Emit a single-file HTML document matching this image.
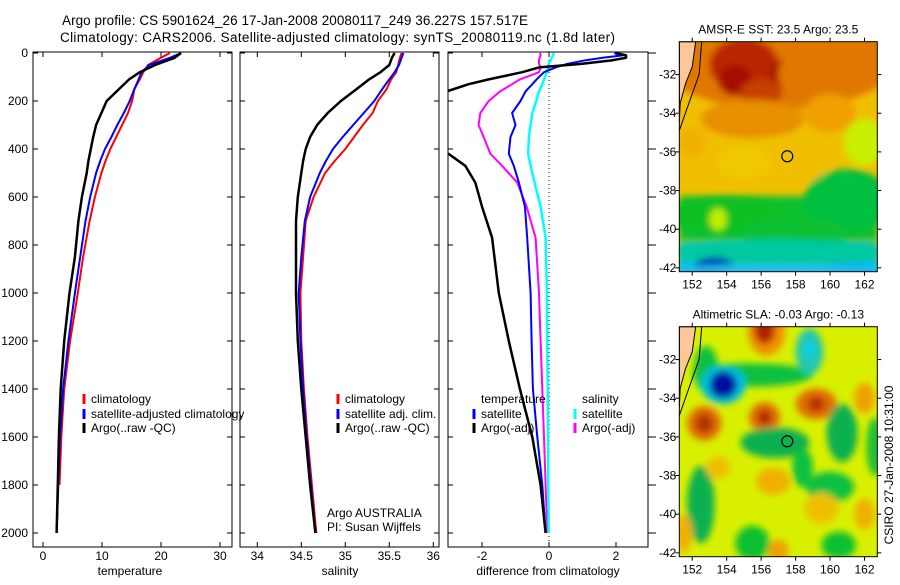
<!DOCTYPE html>
<html><head><meta charset="utf-8"><style>
html,body{margin:0;padding:0;background:#fff;}
svg text{font-family:"Liberation Sans",sans-serif;fill:#000;}
</style></head><body>
<svg id="fig" width="900" height="580" viewBox="0 0 900 580" xmlns="http://www.w3.org/2000/svg">
<defs>
<filter id="blur1" x="-20%" y="-20%" width="140%" height="140%"><feGaussianBlur stdDeviation="3.5"/></filter>
<clipPath id="cT"><rect x="33" y="52" width="199" height="495"/></clipPath>
<clipPath id="cS"><rect x="240" y="52" width="199" height="495"/></clipPath>
<clipPath id="cD"><rect x="448" y="52" width="200" height="495"/></clipPath>
<clipPath id="cM1"><rect x="679" y="42" width="198" height="230"/></clipPath>
<clipPath id="cM2"><rect x="679" y="327" width="198" height="230"/></clipPath>
</defs>
<text x="62" y="25" font-size="13.5" textLength="466">Argo profile: CS 5901624_26 17-Jan-2008 20080117_249 36.227S 157.517E</text>
<text x="60" y="42" font-size="13.5" textLength="555">Climatology: CARS2006. Satellite-adjusted climatology: synTS_20080119.nc (1.8d later)</text>
<g id="panels"></g>
<g id="maps"></g>
</svg>
<script>
// ---- profile data ----
const depthProf = [0,20,50,80,110,150,200,250,300,350,400,450,500,600,700,850,1000,1200,1400,1600,1800,2000];
const tempClim = [21.5,20,17.8,17.0,16.4,15.5,15.1,14.4,13.4,12.4,11.4,10.6,9.9,8.8,7.9,6.8,5.9,4.6,3.6,3.1,2.8];
const tempSat  = [23.4,21.5,18.0,16.7,16.2,15.5,14.7,13.7,12.6,11.6,10.5,9.7,9.0,8.0,7.2,6.3,5.4,4.3,3.4,2.9,2.6,2.3];
const tempArgo = [23.4,22.3,19.0,16.4,14.6,12.9,10.8,9.9,9.0,8.5,8.1,7.7,7.4,6.6,6.0,5.4,4.5,3.6,3.0,2.7,2.5,2.3];
const salClim = [35.64,35.62,35.6,35.58,35.52,35.47,35.37,35.31,35.2,35.1,35.0,34.88,34.77,34.64,34.55,34.52,34.49,34.5,34.53,34.57,34.62,34.67];
const salSat  = [35.66,35.64,35.61,35.56,35.5,35.42,35.33,35.21,35.09,34.97,34.86,34.78,34.71,34.6,34.54,34.5,34.47,34.49,34.52,34.56,34.61,34.66];
const salArgo = [35.56,35.53,35.5,35.4,35.27,35.13,34.95,34.8,34.68,34.6,34.55,34.52,34.5,34.46,34.44,34.44,34.44,34.46,34.5,34.55,34.6,34.66];
const depthDiff = [0,10,20,30,45,60,80,110,130,160,200,250,300,350,420,470,540,640,770,1000,1200,1400,1600,1800,2000];
const diffTempSat  = [1.95,2.2,1.6,1.1,0.55,0.2,-0.15,-0.37,-0.5,-0.7,-0.85,-1.1,-1.0,-1.15,-1.2,-1.05,-0.9,-0.72,-0.65,-0.55,-0.52,-0.48,-0.35,-0.2,-0.1];
const diffTempArgo = [2.0,2.3,2.3,1.9,1.0,-0.3,-0.8,-1.8,-2.4,-3.05,-4,-4.5,-4.5,-4.5,-3.0,-2.5,-2.2,-2.0,-1.7,-1.5,-1.2,-0.87,-0.5,-0.25,-0.1];
const diffSalSat   = [0.15,0.12,0.08,0.05,0.0,-0.05,-0.07,-0.15,-0.2,-0.3,-0.38,-0.5,-0.55,-0.6,-0.62,-0.55,-0.43,-0.25,-0.1,-0.06,-0.05,-0.04,-0.03,-0.02,-0.01];
const diffSalArgo  = [-0.27,-0.25,-0.28,-0.3,-0.3,-0.25,-0.3,-0.87,-1.1,-1.46,-1.8,-2.05,-2.1,-1.95,-1.75,-1.4,-0.95,-0.67,-0.4,-0.3,-0.25,-0.2,-0.15,-0.1,-0.05];
const depthTicks = [0,200,400,600,800,1000,1200,1400,1600,1800,2000];
const tempTicks = [0,10,20,30];
const salTicks = [34,34.5,35,35.5,36];
const salTickLabels = ["34","34.5","35","35.5","36"];
const diffTicks = [-2,0,2];
const lonTicks = [152,154,156,158,160,162];
const latTicks = [-32,-34,-36,-38,-40,-42];

const NS="http://www.w3.org/2000/svg";
function mk(tag,attrs,parent){const e=document.createElementNS(NS,tag);for(const k in attrs)e.setAttribute(k,attrs[k]);parent.appendChild(e);return e;}
const yD = d => 53 + d*0.24;
const xT = v => 43 + v*5.9;
const xS = v => 257.3 + (v-34)*88;
const xDf = v => 549 + v*33.5;
const panels=document.getElementById('panels');

function line(parent,depths,vals,fx,color,w,name){
  let d="";
  for(let i=0;i<vals.length;i++){d+=(i?"L":"M")+fx(vals[i]).toFixed(1)+","+yD(depths[i]).toFixed(1);}
  const p=mk('path',{d:d,fill:"none",stroke:color,"stroke-width":w,"stroke-linejoin":"round"},parent);
  
  
}
function frame(x0,x1,name,clip,fx,ticks,labels,ylabels,rightOut){
  const g=mk('g',{},panels);
  
  
  mk('rect',{x:x0,y:52,width:x1-x0,height:495,fill:"#fff",stroke:"#000","stroke-width":1},g);
  depthTicks.forEach(d=>{
    const y=yD(d);
    mk('line',{x1:x0,x2:x0+5,y1:y,y2:y,stroke:"#000"},g);
    if(rightOut) mk('line',{x1:x1,x2:x1+8,y1:y,y2:y,stroke:"#000"},g);
    else mk('line',{x1:x1-5,x2:x1,y1:y,y2:y,stroke:"#000"},g);
    if(ylabels){const t=mk('text',{x:28,y:y+4,"font-size":12,"text-anchor":"end"},g);t.textContent=String(d);
      
      }
  });
  ticks.forEach((v,i)=>{
    const x=fx(v);
    mk('line',{x1:x,x2:x,y1:52,y2:57,stroke:"#000"},g);
    mk('line',{x1:x,x2:x,y1:542,y2:547,stroke:"#000"},g);
    const t=mk('text',{x:x,y:560,"font-size":12,"text-anchor":"middle"},g);t.textContent=labels[i];
    
    
  });
  return mk('g',{"clip-path":"url(#"+clip+")"},g);
}
let gT=frame(33,232,"temperature-panel","cT",xT,tempTicks,tempTicks.map(String),true,false);
line(gT,depthProf,tempClim,xT,"#ff0000",2,"temp-climatology-line");
line(gT,depthProf,tempSat,xT,"#0000ff",2,"temp-satellite-line");
line(gT,depthProf,tempArgo,xT,"#000",2.5,"temp-argo-line");
let gS=frame(240,439,"salinity-panel","cS",xS,salTicks,salTickLabels,false,false);
line(gS,depthProf,salClim,xS,"#ff0000",2,"sal-climatology-line");
line(gS,depthProf,salSat,xS,"#0000ff",2,"sal-satellite-line");
line(gS,depthProf,salArgo,xS,"#000",2.5,"sal-argo-line");
let gD=frame(448,648,"difference-panel","cD",xDf,diffTicks,diffTicks.map(String),false,true);
mk('line',{x1:xDf(0),x2:xDf(0),y1:52,y2:547,stroke:"#000","stroke-dasharray":"1,3"},gD);
line(gD,depthDiff,diffSalArgo,xDf,"#ff00ff",2,"diff-sal-argo-line");
line(gD,depthDiff,diffSalSat,xDf,"#00ffff",2.5,"diff-sal-satellite-line");
line(gD,depthDiff,diffTempSat,xDf,"#0000ff",2,"diff-temp-satellite-line");
line(gD,depthDiff,diffTempArgo,xDf,"#000",2.5,"diff-temp-argo-line");

function txt(x,y,s,name,size,anchor){const t=mk('text',{x:x,y:y,"font-size":size||12,"text-anchor":anchor||"start"},panels);t.textContent=s;
  
  return t;}
function mark(x,y,c){mk('rect',{x:x-1.5,y:y-9,width:3,height:10,fill:c},panels);}
txt(130,575,"temperature","x-axis-title-temperature",12,"middle");
txt(340,575,"salinity","x-axis-title-salinity",12,"middle");
txt(548,575,"difference from climatology","x-axis-title-difference",12,"middle");
mark(84,403,"#ff0000");txt(91,403,"climatology","legend-temp-climatology");
mark(84,418,"#0000ff");txt(91,418,"satellite-adjusted climatology","legend-temp-satellite");
mark(84,432,"#000");txt(91,432,"Argo(..raw -QC)","legend-temp-argo");
mark(338,403,"#ff0000");txt(345,403,"climatology","legend-sal-climatology");
mark(338,418,"#0000ff");txt(345,418,"satellite adj. clim.","legend-sal-satellite");
mark(338,432,"#000");txt(345,432,"Argo(..raw -QC)","legend-sal-argo");
txt(481,403,"temperature","legend-diff-temp-header");
mark(474,418,"#0000ff");txt(481,418,"satellite","legend-diff-temp-satellite");
mark(474,432,"#000");txt(481,432,"Argo(-adj)","legend-diff-temp-argo");
txt(582,403,"salinity","legend-diff-sal-header");
mark(575,418,"#00ffff");txt(582,418,"satellite","legend-diff-sal-satellite");
mark(575,432,"#ff00ff");txt(582,432,"Argo(-adj)","legend-diff-sal-argo");
txt(327,517,"Argo AUSTRALIA","credit-argo-australia");
txt(327,531,"PI: Susan Wijffels","credit-pi");

// ---- maps ----
const maps=document.getElementById('maps');
const sstBlobs=[
 [157,-31.2,7,2.6,"#e07800"],[155,-31.5,2.0,1.4,"#b82800"],[157.8,-32,1.3,0.9,"#a81400"],[154.5,-32.3,1,0.8,"#a81000"],
 [156,-33,1.2,0.8,"#c84000"],[159,-32,2,1.5,"#e07800"],[155.5,-34.3,3,1,"#e89000"],[160,-34,1.5,1,"#f0a000"],
 [157,-36.5,3,1.3,"#f0c000"],[162,-35.5,1.2,1.2,"#c8f000"],[161,-38.5,2.5,1.6,"#00c040"],[154,-39.3,3.5,0.9,"#10c020"],
 [153.5,-39.5,0.5,0.6,"#c0f000"],[158,-40.2,3,0.8,"#10c030"],[157,-41.2,6,0.7,"#00c8a0"],[153.3,-42,1.2,0.55,"#0020b0"],
 [160.5,-42.1,2,0.3,"#0080f0"],[157,-42.1,6,0.3,"#20c0f0"],[155,-36.5,1.5,0.8,"#f0c800"],[152,-35.5,0.8,0.8,"#f0b000"]];
const slaBlobs=[
 [155.5,-32.8,3.5,0.6,"#10c040"],[152.8,-32.5,0.7,1.2,"#10c040"],
 [156.3,-30.5,1.1,1.3,"#f09000"],[156.2,-30.4,0.6,0.8,"#b02000"],[153.8,-33.3,1.3,1.0,"#00c0e0"],[153.8,-33.3,0.8,0.7,"#0010a0"],
 [158.8,-31.6,0.8,1.2,"#20c8b0"],[158.8,-31.5,0.3,0.4,"#00d0f0"],
 [159.2,-34.3,1.2,0.8,"#e07000"],[159.2,-34.3,0.5,0.4,"#b83000"],[152.7,-35.3,1,0.9,"#e07000"],[152.7,-35.3,0.5,0.5,"#b03000"],
 [156.2,-35,0.9,0.8,"#e07000"],[156.2,-35,0.4,0.4,"#b02000"],[162,-34,0.6,0.8,"#f0a000"],
 [156.8,-36.3,2,0.8,"#10b050"],[160.7,-35.8,0.9,1.5,"#10b050"],[152.5,-39.5,0.8,2,"#10b050"],[160,-38.6,1.4,0.8,"#10c040"],
 [155.5,-41.5,1,0.9,"#10c030"],[160.5,-41.6,1,0.7,"#10c030"],[162.6,-36.5,0.5,1.5,"#20c030"],[158.4,-37.6,0.6,1,"#10c040"],
 [156.7,-38.3,1,0.7,"#f0b000"],[159.5,-39.7,1,0.8,"#f0c000"],[162,-40,0.6,0.8,"#f0b000"],[157,-41.9,0.6,0.6,"#f0a000"],[151.5,-41,0.5,1,"#f0b000"],[153.5,-37.6,0.7,0.6,"#f0c000"]];
function makeMap(top,clip,bg,blobs,name,title){
  const g=mk('g',{},maps);
  
  
  const L=679.3,R=877.3,lon0=151.25,pxLon=17.23,lat0=-30.3,pxLat=19.33;
  const X=lon=>L+(lon-lon0)*pxLon, Y=lat=>top+(lat0-lat)*pxLat;
  const c=mk('g',{"clip-path":"url(#"+clip+")"},g);
  mk('rect',{x:L,y:top,width:R-L,height:230,fill:bg},c);
  if(name==="sst-map"){
    mk('rect',{x:L,y:Y(-38.3),width:R-L,height:Y(-40.6)-Y(-38.3),fill:"#10c030",filter:"url(#blur1)"},c);
    mk('rect',{x:L,y:Y(-40.6),width:R-L,height:80,fill:"#10c8b0",filter:"url(#blur1)"},c);
    mk('rect',{x:L,y:Y(-41.6),width:R-L,height:80,fill:"#00c0f0",filter:"url(#blur1)"},c);
  }
  const bg2=mk('g',{filter:"url(#blur1)"},c);
  blobs.forEach(b=>{const e=mk('ellipse',{cx:X(b[0]),cy:Y(b[1]),rx:b[2]*pxLon,ry:b[3]*pxLat,fill:b[4]},bg2);
    
    });
  const land=mk('path',{d:`M${L},${top} L${X(152.2)},${top} L${X(152.0)},${Y(-31.6)} L${X(151.6)},${Y(-32.5)} L${X(151.3)},${Y(-33.5)} L${L},${Y(-34.5)} Z`,fill:"#fcc898",stroke:"#000","stroke-width":1},c);
  
  
  mk('path',{d:`M${X(152.55)},${top} L${X(152.4)},${Y(-32)} L${X(151.8)},${Y(-33.5)} L${L},${Y(-34.9)}`,fill:"none",stroke:"#000","stroke-width":1},c);
  const m=mk('circle',{cx:X(157.517),cy:Y(-36.227),r:5.5,fill:"none",stroke:"#000","stroke-width":1.2},g);
  
  
  mk('rect',{x:L,y:top,width:R-L,height:230,fill:"none",stroke:"#000"},g);
  lonTicks.forEach(l=>{const x=X(l);mk('line',{x1:x,x2:x,y1:top-4,y2:top,stroke:"#000"},g);mk('line',{x1:x,x2:x,y1:top+230,y2:top+234,stroke:"#000"},g);
    const t=mk('text',{x:x,y:top+247,"font-size":12,"text-anchor":"middle"},g);t.textContent=String(l);
    
    });
  latTicks.forEach(l=>{const y=Y(l);mk('line',{x1:R,x2:R+4,y1:y,y2:y,stroke:"#000"},g);mk('line',{x1:L-4,x2:L,y1:y,y2:y,stroke:"#000"},g);
    const t=mk('text',{x:L-3,y:y+4,"font-size":12,"text-anchor":"end"},g);t.textContent=String(l);
    
    });
  const t=mk('text',{x:(L+R)/2,y:top-8,"font-size":12,"text-anchor":"middle"},g);t.textContent=title;
  
  
}
makeMap(41.7,"cM1","#f0c000",sstBlobs,"sst-map","AMSR-E SST: 23.5 Argo: 23.5");
makeMap(326.7,"cM2","#d8f000",slaBlobs,"sla-map","Altimetric SLA: -0.03 Argo: -0.13");
const st=mk('text',{x:0,y:0,"font-size":12,"text-anchor":"middle",transform:"translate(893,465) rotate(-90)"},maps);
st.textContent="CSIRO 27-Jan-2008 10:31:00";


</script>
</body></html>
